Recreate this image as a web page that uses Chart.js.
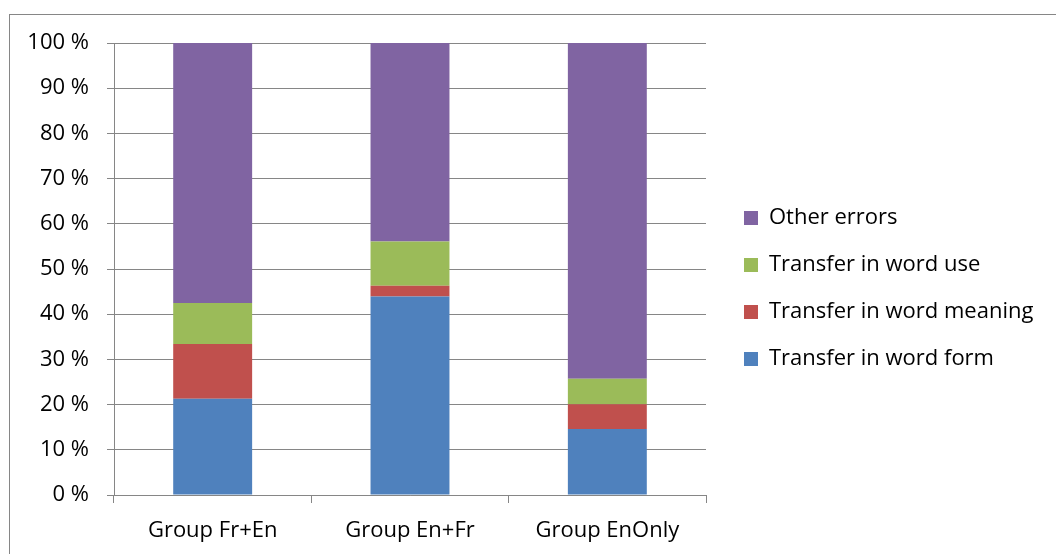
<!DOCTYPE html>
<html>
<head>
<meta charset="utf-8">
<script src="https://cdn.jsdelivr.net/npm/chart.js@4"></script>
<style>
  html, body { margin: 0; padding: 0; background: #fff; }
  #wrap { position: relative; width: 1056px; height: 554px; overflow: hidden; }
  #frame {
    position: absolute; left: 9px; top: 14px; right: -10px; bottom: -10px;
    border-left: 1px solid #868686; border-top: 1px solid #868686;
  }
  #chart { position: absolute; left: 0; top: 0; }
</style>
</head>
<body>
<div id="wrap">
  <div id="frame"></div>
  <canvas id="chart" width="1056" height="554"></canvas>
</div>
<script>
const groups = ['Group Fr+En', 'Group En+Fr', 'Group EnOnly'];
const wordForm = [21.3, 43.9, 14.6];
const wordMeaning = [12.1, 2.4, 5.5];
const wordUse = [9.1, 9.8, 5.6];
const otherErrors = [57.5, 43.9, 74.3];
const yTicks = [0, 10, 20, 30, 40, 50, 60, 70, 80, 90, 100];

const axisGrey = '#868686';
const fontFamily = '"Open Sans", Lato, sans-serif';
const fontSize = 22;

// give the legend a fixed column to the right of the plot, then nudge it into place
const legendPlacement = {
    id: 'legendPlacement',
    beforeLayout(chart) {
        const legend = chart.legend;
        if (!legend._fixedWidth) {
            const fit = legend.fit;
            legend.fit = function () {
                fit.call(this);
                this.width = 350;
            };
            legend._fixedWidth = true;
        }
    },
    afterLayout(chart) {
        const legend = chart.legend;
        legend.left += 13;
        legend.right += 13;
        legend.top -= 10;
        legend.bottom -= 10;
    }
};

const ctx = document.getElementById('chart').getContext('2d');
new Chart(ctx, {
    type: 'bar',
    data: {
        labels: groups,
        datasets: [
            { label: 'Transfer in word form', data: wordForm, backgroundColor: '#4F81BD' },
            { label: 'Transfer in word meaning', data: wordMeaning, backgroundColor: '#C0504D' },
            { label: 'Transfer in word use', data: wordUse, backgroundColor: '#9BBB59' },
            { label: 'Other errors', data: otherErrors, backgroundColor: '#8064A2' }
        ]
    },
    options: {
        responsive: false,
        animation: false,
        layout: { padding: { top: 43, bottom: 0, left: 0, right: 0 } },
        datasets: {
            bar: { categoryPercentage: 1, barPercentage: 0.4, borderWidth: 0 }
        },
        plugins: {
            legend: {
                position: 'right',
                reverse: true,
                maxWidth: 400,
                labels: {
                    boxWidth: 14,
                    boxHeight: 14,
                    padding: 25,
                    color: '#000',
                    font: { family: fontFamily, size: fontSize }
                }
            },
            tooltip: { enabled: false }
        },
        scales: {
            x: {
                stacked: true,
                afterFit(scale) { scale.height = 59; },
                grid: { drawOnChartArea: false, drawTicks: true, tickLength: 8, color: axisGrey },
                border: { color: axisGrey },
                ticks: { color: '#000', padding: 15, font: { family: fontFamily, size: fontSize } }
            },
            y: {
                stacked: true,
                min: 0,
                max: 100,
                afterFit(scale) { scale.width = 114; },
                afterBuildTicks(scale) { scale.ticks = yTicks.map(v => ({ value: v })); },
                grid: { color: axisGrey, tickLength: 7 },
                border: { color: axisGrey },
                ticks: {
                    color: '#000',
                    padding: 18,
                    font: { family: fontFamily, size: fontSize },
                    callback: v => v + ' %'
                }
            }
        }
    },
    plugins: [legendPlacement]
});
</script>
</body>
</html>
